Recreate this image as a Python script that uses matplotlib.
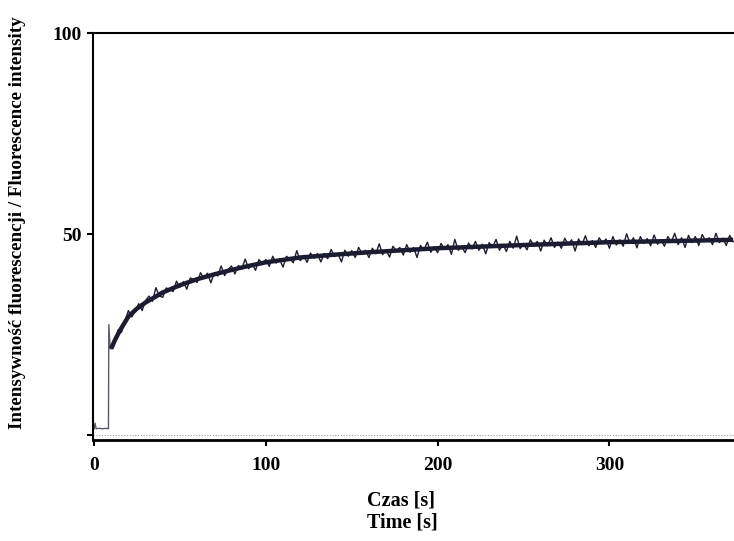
import matplotlib
matplotlib.use('Agg')
import matplotlib.pyplot as plt
import numpy as np

# =========================
# Donnees
# =========================
# phase initiale (ligne de base + saut)
t_debut = [0, 0.6, 1.2, 3, 5, 7, 8.4, 8.6, 9.4, 10]
y_debut = [1.5, 3.0, 1.6, 1.7, 1.6, 1.7, 1.6, 27.5, 21.5, 21.5]

# courbe moyenne
t_moy = [10, 12, 15, 20, 25, 30, 40, 50, 60, 70, 80, 90, 100, 120, 140,
         160, 180, 200, 250, 300, 350, 372]
y_moy = [21.5, 23.5, 26, 29.5, 31.5, 33, 35.5, 37.3, 38.8, 40, 41.1, 42.1,
         43, 44.2, 44.9, 45.5, 46, 46.5, 47.3, 48, 48.4, 48.6]

# signal bruite (pas de 2 s)
t_bruit = np.arange(10, 374, 2)
y_bruit = [
    22.3, 22.9, 26.2, 25.6, 28.4, 31.0, 29.4, 30.9, 32.7, 31.0,
    33.5, 34.6, 33.3, 36.7, 34.6, 34.3, 36.6, 36.3, 35.7, 38.3,
    36.8, 38.2, 36.3, 39.1, 38.7, 38.0, 40.4, 39.0, 40.3, 37.9,
    40.4, 39.6, 42.1, 39.7, 41.2, 42.1, 40.1, 42.2, 41.4, 43.8,
    41.4, 42.7, 41.0, 43.7, 42.6, 43.7, 42.0, 44.5, 42.8, 43.8,
    41.8, 44.5, 43.8, 42.9, 45.9, 43.4, 44.6, 43.0, 45.3, 44.0,
    45.2, 43.1, 45.2, 43.9, 46.2, 44.4, 45.1, 43.1, 46.0, 44.5,
    45.9, 44.2, 46.7, 45.2, 46.0, 44.2, 46.5, 45.1, 47.6, 44.9,
    46.1, 44.3, 47.0, 45.8, 46.7, 44.8, 47.4, 45.5, 46.7, 44.2,
    47.2, 46.0, 48.0, 45.5, 46.9, 45.4, 47.7, 46.2, 47.4, 45.0,
    48.7, 46.0, 46.9, 45.4, 47.8, 46.3, 48.2, 46.0, 47.5, 45.1,
    47.9, 46.8, 48.7, 46.0, 47.5, 45.7, 48.2, 46.5, 49.5, 46.4,
    47.7, 46.1, 48.6, 47.1, 48.2, 45.8, 48.5, 47.1, 49.1, 46.7,
    48.0, 46.5, 49.0, 47.4, 48.6, 45.8, 48.8, 47.4, 49.6, 47.1,
    48.4, 46.7, 49.1, 47.8, 48.8, 46.5, 49.4, 47.3, 48.6, 47.0,
    50.1, 47.7, 49.1, 46.6, 49.4, 47.7, 48.9, 47.1, 49.8, 47.5,
    48.6, 47.0, 49.4, 48.1, 50.2, 47.4, 49.1, 46.7, 49.7, 47.9,
    49.4, 47.2, 49.9, 48.3, 49.1, 47.4, 50.2, 47.9, 49.0, 47.2,
    49.7, 48.1,
]

x_ticks = [0, 100, 200, 300]
y_ticks = [0, 50, 100]
y_tick_labels = ["", "50", "100"]

# =========================
# Figure
# =========================
plt.rcParams['font.family'] = ['Liberation Serif', 'DejaVu Serif']
plt.rcParams['font.weight'] = 'bold'

fig = plt.figure(figsize=(7.34, 5.41), dpi=100)
ax = fig.add_axes([0.1267, 0.1867, 0.8733, 0.752])

couleur = "#1c1c30"
ax.axhline(0, color="#9a9a9a", lw=0.8, ls=(0, (1, 1.5)))
ax.plot(t_debut, y_debut, color="#5a5a66", lw=1.0)
ax.plot(t_moy, y_moy, color=couleur, lw=3.2, solid_capstyle='butt')
ax.plot(t_bruit, y_bruit, color=couleur, lw=1.0)

ax.set_xlim(-0.6, 372.5)
ax.set_ylim(-1.2, 100)

ax.spines['right'].set_visible(False)
for s in ['left', 'top']:
    ax.spines[s].set_linewidth(1.5)
ax.spines['bottom'].set_linewidth(2.0)

ax.set_xticks(x_ticks)
ax.set_yticks(y_ticks)
ax.set_yticklabels(y_tick_labels)
ax.tick_params(axis='both', direction='out', length=4, width=1.5,
               labelsize=14)
ax.tick_params(axis='x', pad=8)
ax.tick_params(axis='y', pad=4)
for lab in ax.get_xticklabels() + ax.get_yticklabels():
    lab.set_fontweight('bold')

fig.text(367 / 734, 1 - 501 / 541, "Czas [s]", ha='left', va='center',
         fontsize=14.5, fontweight='bold')
fig.text(367 / 734, 1 - 522 / 541, "Time [s]", ha='left', va='center',
         fontsize=14.5, fontweight='bold')
fig.text(18 / 734, 1 - 223 / 541,
         "Intensywność fluorescencji / Fluorescence intensity",
         rotation=90, ha='center', va='center', fontsize=13.7,
         fontweight='bold')

plt.savefig("out.png", dpi=100)
